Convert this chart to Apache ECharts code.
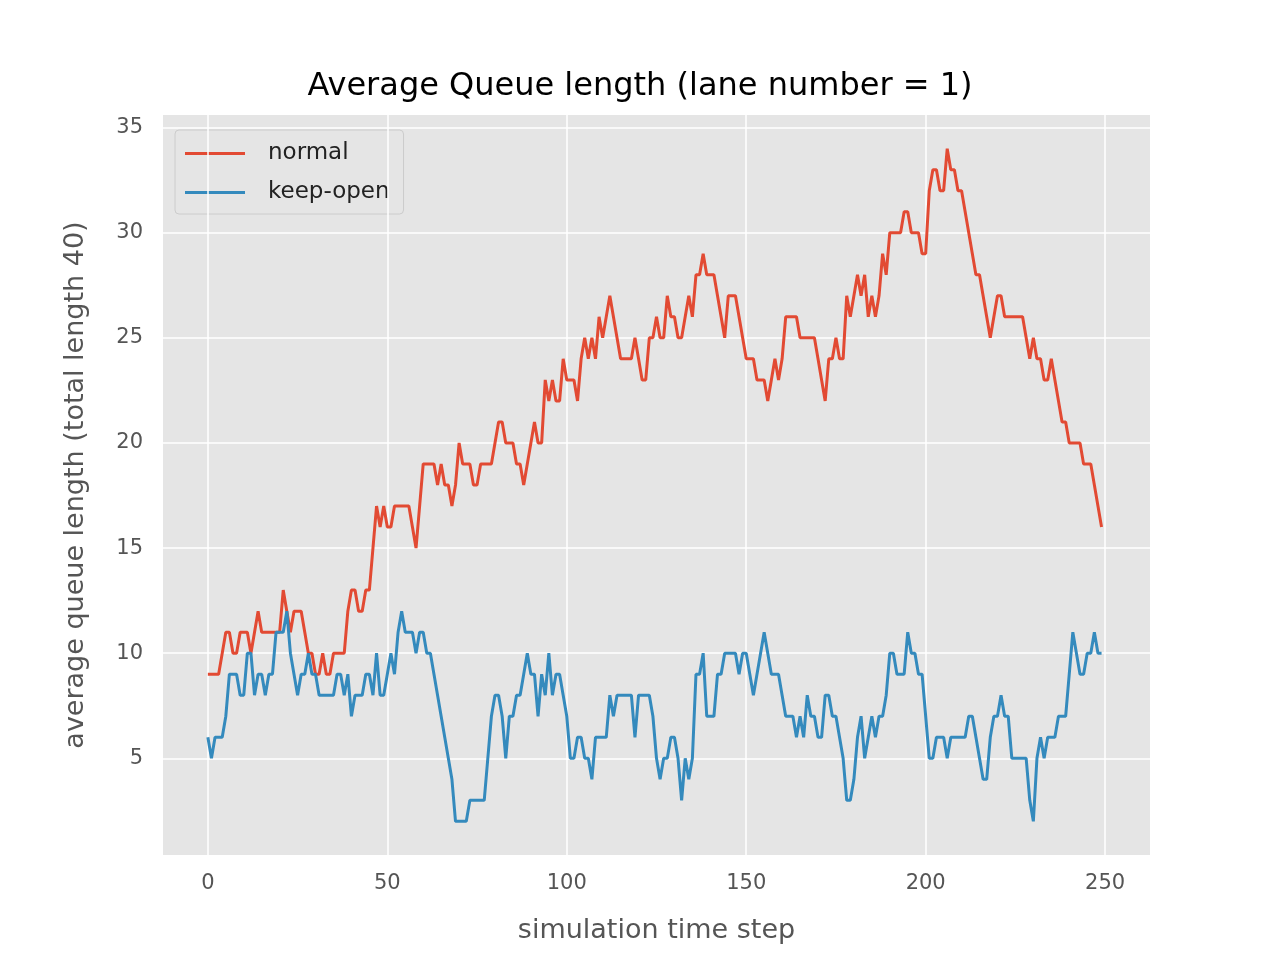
<!DOCTYPE html>
<html>
<head>
<meta charset="utf-8">
<script src="https://cdn.jsdelivr.net/npm/echarts@6/dist/echarts.min.js"></script>
<style>html,body{margin:0;padding:0;background:#fff}#main{width:1280px;height:960px}</style>
</head>
<body>
<div id="main"></div>
<script>
// queue length per time step
var normal = [
  9,9,9,9,10,11,11,10,10,11, 11,11,10,11,12,11,11,11,11,11,
  11,13,12,11,12,12,12,11,10,10, 9,9,10,9,9,10,10,10,10,12,
  13,13,12,12,13,13,15,17,16,17, 16,16,17,17,17,17,17,16,15,17,
  19,19,19,19,18,19,18,18,17,18, 20,19,19,19,18,18,19,19,19,19,
  20,21,21,20,20,20,19,19,18,19, 20,21,20,20,23,22,23,22,22,24,
  23,23,23,22,24,25,24,25,24,26, 25,26,27,26,25,24,24,24,24,25,
  24,23,23,25,25,26,25,25,27,26, 26,25,25,26,27,26,28,28,29,28,
  28,28,27,26,25,27,27,27,26,25, 24,24,24,23,23,23,22,23,24,23,
  24,26,26,26,26,25,25,25,25,25, 24,23,22,24,24,25,24,24,27,26,
  27,28,27,28,26,27,26,27,29,28, 30,30,30,30,31,31,30,30,30,29,
  29,32,33,33,32,32,34,33,33,32, 32,31,30,29,28,28,27,26,25,26,
  27,27,26,26,26,26,26,26,25,24, 25,24,24,23,23,24,23,22,21,21,
  20,20,20,20,19,19,19,18,17,16
];
var keepOpen = [
  6,5,6,6,6,7,9,9,9,8, 8,10,10,8,9,9,8,9,9,11,
  11,11,12,10,9,8,9,9,10,9, 9,8,8,8,8,8,9,9,8,9,
  7,8,8,8,9,9,8,10,8,8, 9,10,9,11,12,11,11,11,10,11,
  11,10,10,9,8,7,6,5,4,2, 2,2,2,3,3,3,3,3,5,7,
  8,8,7,5,7,7,8,8,9,10, 9,9,7,9,8,10,8,9,9,8,
  7,5,5,6,6,5,5,4,6,6, 6,6,8,7,8,8,8,8,8,6,
  8,8,8,8,7,5,4,5,5,6, 6,5,3,5,4,5,9,9,10,7,
  7,7,9,9,10,10,10,10,9,10, 10,9,8,9,10,11,10,9,9,9,
  8,7,7,7,6,7,6,8,7,7, 6,6,8,8,7,7,6,5,3,3,
  4,6,7,5,6,7,6,7,7,8, 10,10,9,9,9,11,10,10,9,9,
  7,5,5,6,6,6,5,6,6,6, 6,6,7,7,6,5,4,4,6,7,
  7,8,7,7,5,5,5,5,5,3, 2,5,6,5,6,6,6,7,7,7,
  9,11,10,9,9,10,10,11,10,10
];
var xTicks = [0, 50, 100, 150, 200, 250];
var yTicks = [5, 10, 15, 20, 25, 30, 35];

function pairs(arr) { return arr.map(function (v, i) { return [i, v]; }); }

var gridLine = { color: '#ffffff', width: 1.5, type: 'solid' };
var tickLabel = { color: '#555555', fontSize: 21, fontFamily: 'DejaVu Sans' };

var chart = echarts.init(document.getElementById('main'));
chart.setOption({
  backgroundColor: '#ffffff',
  animation: false,
  textStyle: { fontFamily: 'DejaVu Sans' },
  title: {
    text: 'Average Queue length (lane number = 1)',
    left: 'center', top: 66,
    textStyle: { fontSize: 32, fontWeight: 'normal', color: '#000', fontFamily: 'DejaVu Sans' }
  },
  grid: { left: 163, right: 130, top: 115, bottom: 105, show: true, backgroundColor: '#e5e5e5', borderWidth: 0 },
  legend: {
    orient: 'vertical', left: 175, top: 130,
    padding: [12, 14, 10, 10], itemGap: 16,
    backgroundColor: 'rgba(229,229,229,0.8)', borderColor: '#cccccc', borderWidth: 1, borderRadius: 4,
    itemWidth: 60, itemHeight: 3, icon: 'rect',
    textStyle: { fontSize: 23, color: '#222', padding: [0, 0, 0, 18] },
    data: ['normal', 'keep-open']
  },
  xAxis: {
    type: 'value', min: -12.5, max: 262.5,
    name: 'simulation time step', nameLocation: 'middle', nameGap: 62,
    nameTextStyle: { fontSize: 27, color: '#555555' },
    axisLine: { show: false }, axisTick: { show: false }, axisLabel: { show: false }, splitLine: { show: false }
  },
  yAxis: {
    type: 'value', min: 0.4, max: 35.6,
    name: 'average queue length (total length 40)', nameLocation: 'middle', nameGap: 74,
    nameTextStyle: { fontSize: 27, color: '#555555' },
    axisLine: { show: false }, axisTick: { show: false }, axisLabel: { show: false }, splitLine: { show: false }
  },
  series: [
    {
      type: 'line', name: 'grid', data: [], zlevel: 0, z: 1, silent: true,
      markLine: {
        silent: true, symbol: 'none', animation: false,
        lineStyle: gridLine,
        data: xTicks.map(function (v) {
          return { xAxis: v, label: Object.assign({ show: true, position: 'start', distance: 18, formatter: String(v) }, tickLabel) };
        }).concat(yTicks.map(function (v) {
          return { yAxis: v, label: Object.assign({ show: true, position: 'start', distance: 20, formatter: String(v) }, tickLabel) };
        }))
      }
    },
    {
      type: 'line', name: 'normal', data: pairs(normal), showSymbol: false, zlevel: 1, z: 3,
      lineStyle: { color: '#E24A33', width: 3 }, itemStyle: { color: '#E24A33' }
    },
    {
      type: 'line', name: 'keep-open', data: pairs(keepOpen), showSymbol: false, zlevel: 1, z: 3,
      lineStyle: { color: '#348ABD', width: 3 }, itemStyle: { color: '#348ABD' }
    }
  ]
});
</script>
</body>
</html>
